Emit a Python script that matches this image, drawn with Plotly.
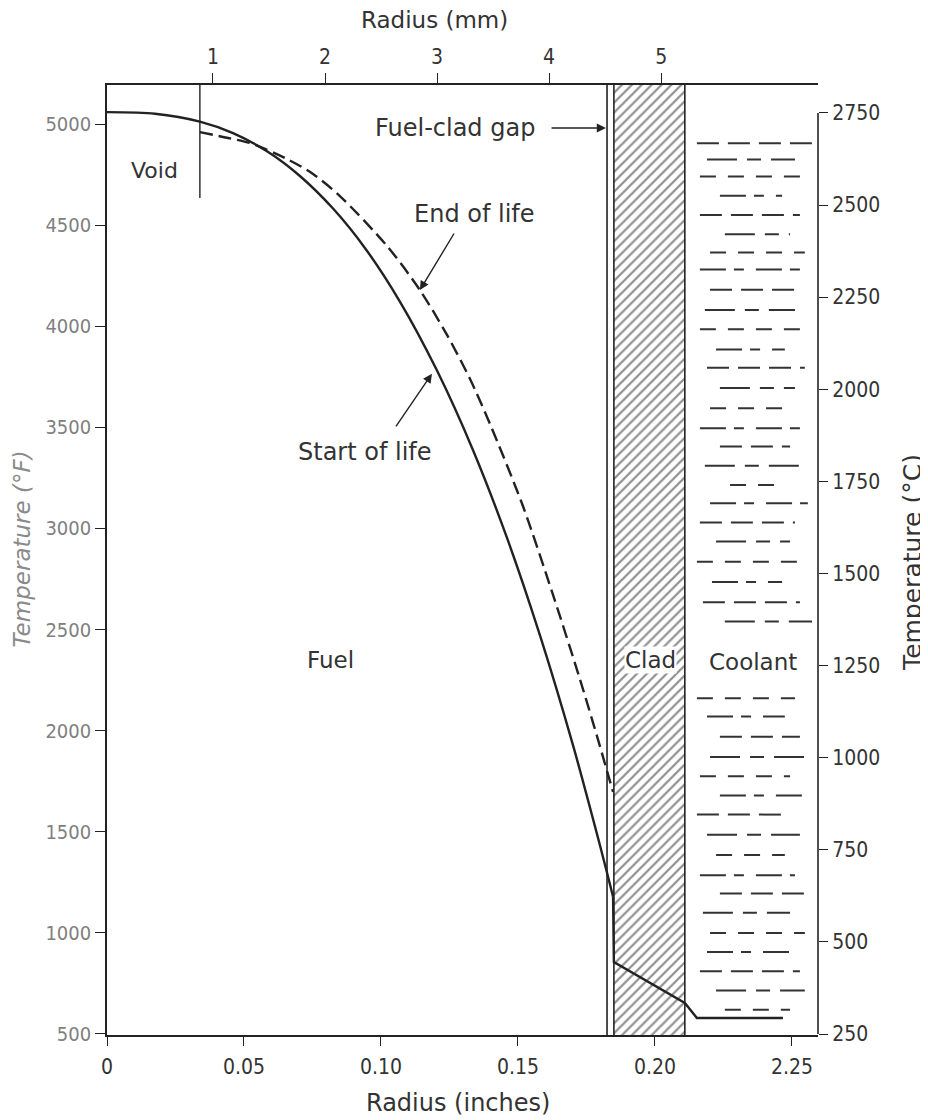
import plotly.graph_objects as go

# ---------------- data ----------------
# Start of life profile: radius (inches) vs temperature (deg F)
SOL_R = [0.0, 0.0175, 0.0339, 0.0460, 0.0584, 0.0704, 0.0825, 0.0942, 0.1069,
         0.1204, 0.1336, 0.1460, 0.1580, 0.1701, 0.1788, 0.1825, 0.1847,
         0.1850, 0.2109, 0.2153, 0.2467]
SOL_T = [5059, 5051, 5012, 4955, 4865, 4743, 4582, 4386, 4122,
         3782, 3387, 2953, 2472, 1927, 1491, 1297, 1179,
         856, 653, 579, 579]

# End of life profile
EOL_R = [0.0339, 0.0442, 0.0522, 0.0657, 0.0752, 0.0850, 0.1022, 0.1142,
         0.1241, 0.1325, 0.1398, 0.1518, 0.1628, 0.1726, 0.1799, 0.1825, 0.1847]
EOL_T = [4960, 4931, 4906, 4827, 4753, 4644, 4397, 4179,
         3957, 3739, 3516, 3111, 2671, 2255, 1924, 1800, 1697]

# Region boundaries (inches)
VOID_R = 0.0339
VOID_T_END = 4634
GAP_R = [0.1825, 0.1850]
CLAD_R = [0.1850, 0.2109]

# Coolant hatching rows (deg F) with start / end radius (inches)
COOLANT_T = [4905, 4825, 4740, 4645, 4550, 4455, 4365, 4280, 4180, 4080, 3985,
             3885, 3795, 3695, 3595, 3495, 3405, 3310, 3215, 3125, 3030, 2935,
             2835, 2735, 2635, 2540, 2160, 2070, 1970, 1870, 1775, 1680, 1585,
             1485, 1385, 1285, 1195, 1100, 1000, 905, 810, 715, 620]
COOLANT_X0 = [0.2153, 0.2190, 0.2164, 0.2237, 0.2164, 0.2255, 0.2201, 0.2164,
              0.2201, 0.2182, 0.2164, 0.2223, 0.2190, 0.2237, 0.2201, 0.2164,
              0.2237, 0.2182, 0.2274, 0.2201, 0.2164, 0.2223, 0.2153, 0.2208,
              0.2175, 0.2255, 0.2153, 0.2190, 0.2237, 0.2201, 0.2164, 0.2237,
              0.2153, 0.2190, 0.2223, 0.2164, 0.2237, 0.2175, 0.2201, 0.2190,
              0.2164, 0.2223, 0.2255]
COOLANT_X1 = [0.2573, 0.2511, 0.2547, 0.2464, 0.2529, 0.2493, 0.2547, 0.2547,
              0.2529, 0.2511, 0.2558, 0.2474, 0.2547, 0.2511, 0.2474, 0.2566,
              0.2493, 0.2529, 0.2474, 0.2558, 0.2511, 0.2493, 0.2547, 0.2464,
              0.2529, 0.2573, 0.2511, 0.2474, 0.2529, 0.2558, 0.2493, 0.2547,
              0.2474, 0.2529, 0.2474, 0.2511, 0.2558, 0.2493, 0.2547, 0.2511,
              0.2529, 0.2547, 0.2493]

# Axes ticks
IN_TICKS = [0, 0.05, 0.10, 0.15, 0.20, 0.25]
IN_LABELS = ["0", "0.05", "0.10", "0.15", "0.20", "2.25"]
MM_TICKS = [1, 2, 3, 4, 5]
F_TICKS = [500, 1000, 1500, 2000, 2500, 3000, 3500, 4000, 4500, 5000]
C_TICKS = [250, 500, 750, 1000, 1250, 1500, 1750, 2000, 2250, 2500, 2750]

# Axis ranges
X_RANGE = [0, 0.2595]
MM_RANGE = [0.054, 6.40]
F_RANGE = [495, 5193]
C_RANGE = [247.3, 2825.8]

INK = "#222222"
TXT = "#333333"
FONT = "DejaVu Sans"
NUMFONT = "DejaVu Sans Condensed, Liberation Sans Narrow, DejaVu Sans, sans-serif"

fig = go.Figure()

# Clad hatching
fig.add_trace(go.Scatter(
    x=[CLAD_R[0], CLAD_R[1], CLAD_R[1], CLAD_R[0], CLAD_R[0]],
    y=[F_RANGE[0], F_RANGE[0], F_RANGE[1], F_RANGE[1], F_RANGE[0]],
    fill="toself", mode="none", fillcolor="white",
    fillpattern=dict(shape="/", size=7, solidity=0.32, fgcolor="#1e1e1e",
                     bgcolor="white"),
    hoverinfo="skip", showlegend=False))

# Coolant dashes
dash_styles = ["22px,9px", "30px,10px,14px,10px", "16px,12px", "26px,8px,10px,12px"]
for k, ds in enumerate(dash_styles):
    xs, ys = [], []
    for i in range(k, len(COOLANT_T), len(dash_styles)):
        xs += [COOLANT_X0[i], COOLANT_X1[i], None]
        ys += [COOLANT_T[i], COOLANT_T[i], None]
    fig.add_trace(go.Scatter(x=xs, y=ys, mode="lines",
                             line=dict(color="#333333", width=2, dash=ds),
                             hoverinfo="skip", showlegend=False))

# Profiles: smooth in the fuel, straight segments through gap / clad / coolant
n_fuel = sum(1 for r in SOL_R if r <= GAP_R[1] - 0.0002)
fig.add_trace(go.Scatter(x=SOL_R[:n_fuel], y=SOL_T[:n_fuel], mode="lines",
                         name="Start of life",
                         line=dict(color=INK, width=2.4, shape="spline", smoothing=0.8),
                         showlegend=False))
fig.add_trace(go.Scatter(x=SOL_R[n_fuel - 1:], y=SOL_T[n_fuel - 1:], mode="lines",
                         line=dict(color=INK, width=2.4), showlegend=False,
                         hoverinfo="skip"))
fig.add_trace(go.Scatter(x=EOL_R, y=EOL_T, mode="lines", name="End of life",
                         line=dict(color=INK, width=2.4, dash="13px,6px",
                                   shape="spline", smoothing=0.8),
                         showlegend=False))

# Invisible trace so the secondary axes (mm, deg C) are realised
fig.add_trace(go.Scatter(x=[MM_TICKS[0], MM_TICKS[-1]], y=[C_TICKS[0], C_TICKS[-1]],
                         xaxis="x2", yaxis="y2", mode="markers",
                         marker=dict(opacity=0), hoverinfo="skip", showlegend=False))

shapes = []
for r in GAP_R + [CLAD_R[1]]:
    shapes.append(dict(type="line", xref="x", yref="paper", x0=r, x1=r, y0=0, y1=1,
                       line=dict(color=INK, width=1.6)))
shapes.append(dict(type="line", xref="x", yref="y", x0=VOID_R, x1=VOID_R,
                   y0=VOID_T_END, y1=F_RANGE[1], line=dict(color=INK, width=1.4)))
shapes.append(dict(type="line", xref="paper", yref="y2", x0=1, x1=1,
                   y0=C_TICKS[0], y1=C_TICKS[-1], line=dict(color=INK, width=1.6)))
fig.update_layout(shapes=shapes)

ann = []
def txt(x, y, s, size=24, **kw):
    d = dict(x=x, y=y, xref="x", yref="y", text=s, showarrow=False,
             xanchor="center", yanchor="middle",
             font=dict(family=FONT, size=size, color=TXT))
    d.update(kw)
    ann.append(d)

def arrow(xt, yt, xs, ys):
    ann.append(dict(x=xt, y=yt, ax=xs, ay=ys, xref="x", yref="y", axref="x", ayref="y",
                    text="", showarrow=True, arrowhead=2, arrowsize=1.3,
                    arrowwidth=1.4, arrowcolor=INK))

def title(x, y, s, size, color=TXT, angle=0):
    ann.append(dict(xref="paper", yref="paper", x=x, y=y, text=s, showarrow=False,
                    xanchor="center", yanchor="middle", textangle=angle,
                    font=dict(family=FONT, size=size, color=color)))

txt(0.0175, 4772, "Void", size=22)
txt(0.1343, 4555, "End of life")
txt(0.0942, 3378, "Start of life")
txt(0.1270, 4980, "Fuel-clad gap")
txt(0.0814, 2349, "Fuel", size=23)
txt(0.1982, 2349, "Clad", size=23, bgcolor="white", borderpad=0)
txt(0.2358, 2340, "Coolant", size=23)
arrow(0.1142, 4179, 0.1270, 4466)
arrow(0.1186, 3765, 0.1051, 3497)
arrow(0.1821, 4980, 0.1617, 4980)

# Axis titles (paper coords; plot area spans 85..1035 px vertically, 107..818 px horizontally)
title(0.494, -0.0716, "Radius (inches)", 24)
title(0.461, 1.0684, "Radius (mm)", 23)
title(-0.1195, 0.511, "<i>Temperature (°F)</i>", 23, color="#8a8a8a", angle=-90)
title(1.1336, 0.498, "Temperature (°C)", 25, angle=-90)
fig.update_layout(annotations=ann)

tickfont = dict(family=NUMFONT, size=21, color=TXT)
fig.update_layout(
    width=920, height=1112, autosize=False,
    margin=dict(l=99, r=110, t=77, b=85, pad=0),
    paper_bgcolor="white", plot_bgcolor="white", showlegend=False,
    font=dict(family=FONT, size=17, color=TXT),
    xaxis=dict(range=X_RANGE, tickvals=IN_TICKS, ticktext=IN_LABELS, ticks="outside",
               ticklen=9, tickwidth=1.4, tickcolor=INK, showline=True, linecolor=INK,
               linewidth=2, showgrid=False, zeroline=False, tickfont=tickfont,
               ticklabelstandoff=3),
    xaxis2=dict(range=MM_RANGE, overlaying="x", side="top", anchor="y",
                tickvals=MM_TICKS, ticks="outside", ticklen=10, tickwidth=1.4,
                tickcolor=INK, showline=True, linecolor=INK, linewidth=2,
                showgrid=False, zeroline=False, tickfont=tickfont,
                ticklabelstandoff=1),
    yaxis=dict(range=F_RANGE, tickvals=F_TICKS, ticks="outside", ticklen=10,
               tickwidth=1.4, tickcolor=INK, showline=True, linecolor=INK,
               linewidth=1.6, showgrid=False, zeroline=False,
               tickfont=dict(family=NUMFONT, size=20, color="#808080")),
    yaxis2=dict(range=C_RANGE, overlaying="y", side="right", anchor="x",
                tickvals=C_TICKS, ticks="outside", ticklen=9, tickwidth=1.4,
                tickcolor=INK, showline=False, showgrid=False, zeroline=False,
                tickfont=dict(family=NUMFONT, size=21, color=TXT)),
)

fig.write_html("out.html")
